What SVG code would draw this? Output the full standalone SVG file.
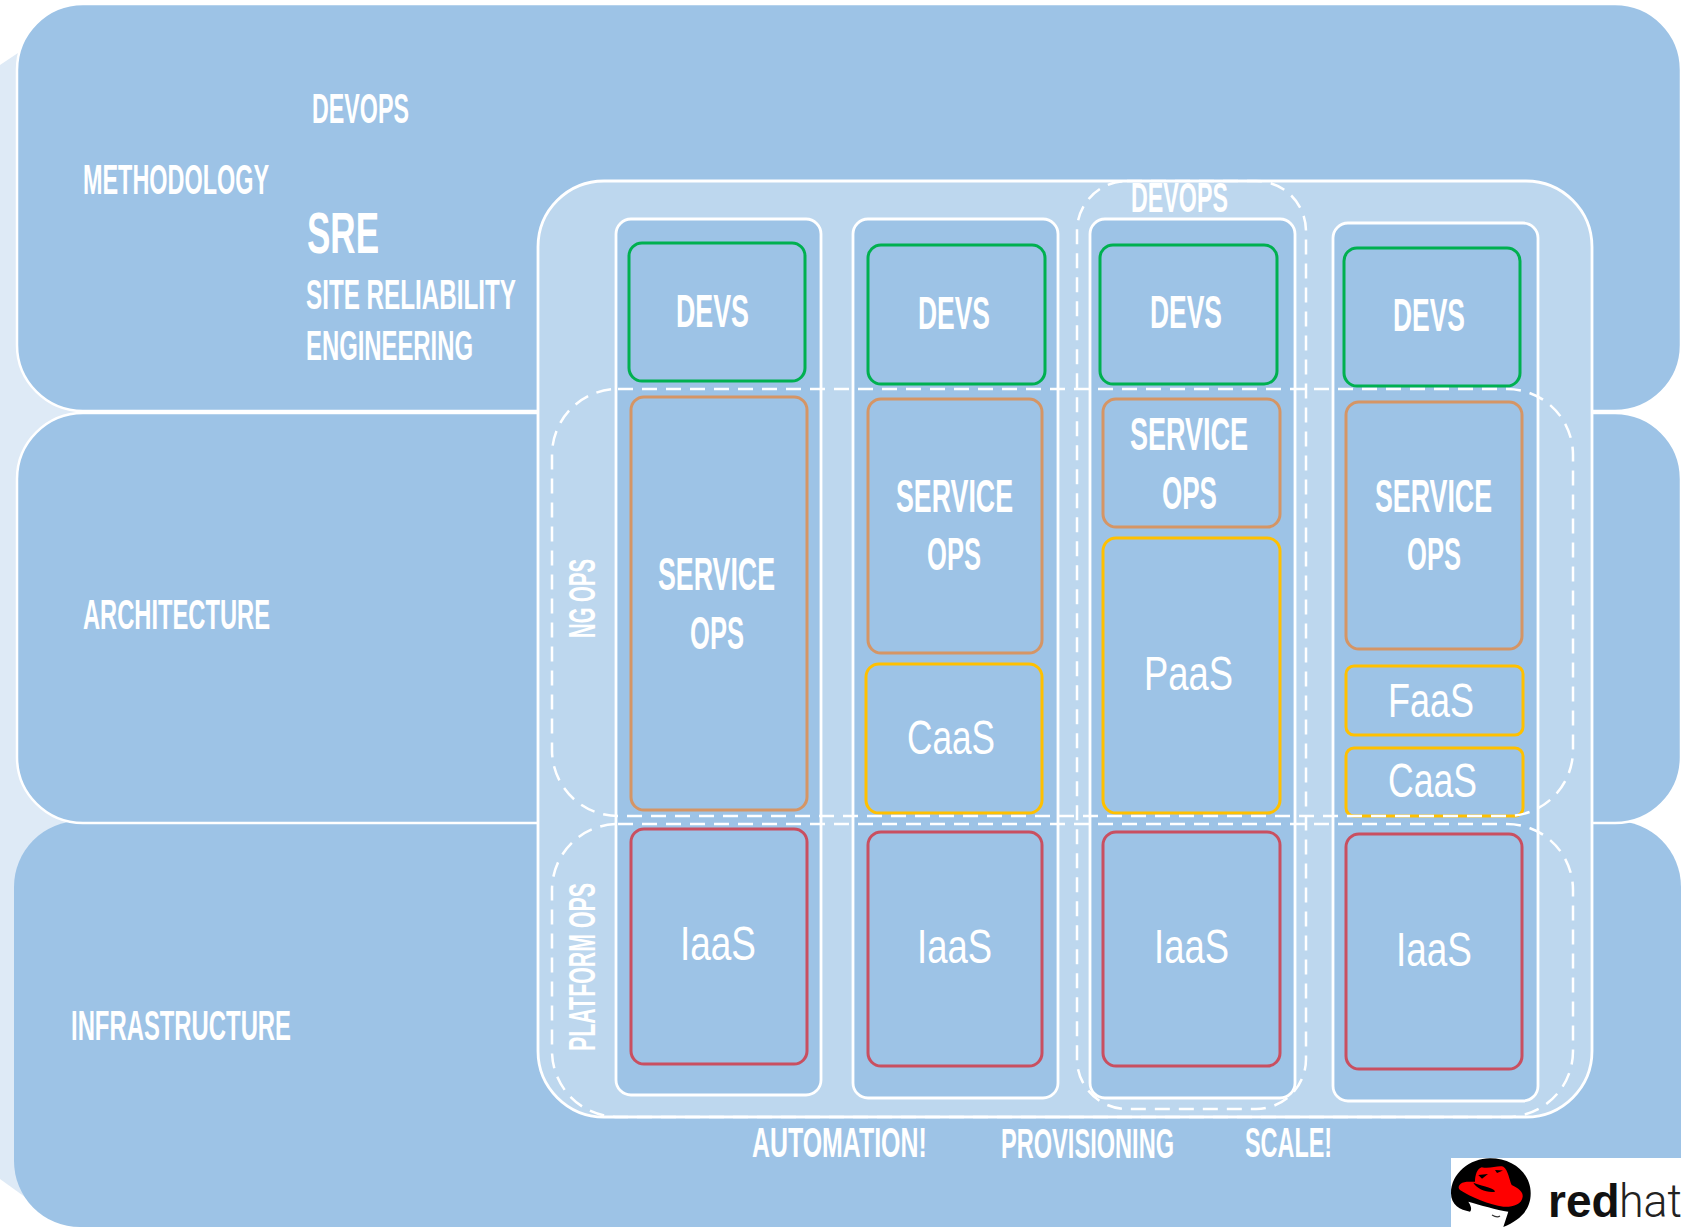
<svg xmlns="http://www.w3.org/2000/svg" width="1683" height="1227" viewBox="0 0 1683 1227">
<style>
.band{fill:#9DC3E6;stroke:#fff;stroke-width:2.5}
.flat{fill:#9DC3E6}
.panel{fill:#BDD7EE;stroke:#fff;stroke-width:2.8}
.card{fill:#9DC3E6;stroke:#fff;stroke-width:2.8}
.dash{fill:none;stroke:#fff;stroke-width:2.5;stroke-dasharray:15 9}
.box{fill:none;stroke-width:3}
.g{stroke:#00B050}.o{stroke:#D59565}.y{stroke:#FFC000}.r{stroke:#C94F60}
text{fill:#fff;font-family:"Liberation Sans",Arial,sans-serif}
.h{font-weight:700;font-size:42px}
.big{font-weight:700;font-size:57px}
.m{font-weight:700;font-size:46px}
.s{font-weight:400;font-size:49px}
.v{font-weight:700;font-size:37px}
.lg{fill:#111;font-size:46px;font-weight:700}
.lt{fill:#222;font-family:Roboto,"Liberation Sans",sans-serif;font-size:46px;font-weight:300}
</style>
<polygon id="backdrop" points="0,65 30,45 90,45 90,1210 25,1197 0,1179" fill="#DEEAF6"/>
<g id="layer-infrastructure"><rect class="flat" x="14" y="821" width="1667" height="406" rx="66" ry="66"/></g>
<g id="layer-architecture"><rect class="band" x="17" y="413" width="1664" height="410" rx="66" ry="66"/></g>
<g id="layer-methodology"><rect class="band" x="17" y="4" width="1664" height="407" rx="66" ry="66"/></g>
<g id="panel"><rect class="panel" x="538" y="181" width="1054" height="936" rx="66" ry="66"/></g>

<g id="column-1">
<rect class="card" x="616" y="219" width="205" height="876" rx="15"/>
<rect class="box g" x="629" y="243" width="176" height="138" rx="13"/>
<rect class="box o" x="631" y="397" width="176" height="413" rx="13"/>
<rect class="box r" x="631" y="829" width="176" height="235" rx="13"/>
</g>
<g id="column-2">
<rect class="card" x="853" y="219" width="205" height="879" rx="15"/>
<rect class="box g" x="868" y="245" width="177" height="139" rx="13"/>
<rect class="box o" x="868" y="399" width="174" height="254" rx="13"/>
<rect class="box y" x="866" y="664" width="176" height="149" rx="13"/>
<rect class="box r" x="868" y="832" width="174" height="234" rx="13"/>
</g>
<g id="column-3">
<rect class="card" x="1090" y="219" width="205" height="879" rx="15"/>
<rect class="box g" x="1100" y="245" width="177" height="139" rx="13"/>
<rect class="box o" x="1103" y="399" width="177" height="128" rx="13"/>
<rect class="box y" x="1103" y="538" width="177" height="275" rx="13"/>
<rect class="box r" x="1103" y="832" width="177" height="234" rx="13"/>
</g>
<g id="column-4">
<rect class="card" x="1333" y="223" width="205" height="878" rx="15"/>
<rect class="box g" x="1344" y="248" width="176" height="138" rx="13"/>
<rect class="box o" x="1346" y="402" width="176" height="247" rx="13"/>
<rect class="box y" x="1346" y="666" width="177" height="69" rx="8"/>
<rect class="box y" x="1346" y="748" width="177" height="68" rx="8"/>
<rect class="box r" x="1346" y="834" width="176" height="235" rx="13"/>
</g>

<g id="dashed-groups">
<rect class="dash" x="552" y="389" width="1021" height="427" rx="66" ry="66"/>
<rect class="dash" x="552" y="824" width="1021" height="293" rx="66" ry="66"/>
<rect class="dash" x="1077" y="181" width="229" height="928" rx="50" ry="50"/>
</g>

<g id="labels-left">
<text class="h" x="312" y="123" textLength="97" lengthAdjust="spacingAndGlyphs">DEVOPS</text>
<text class="h" x="83" y="194" textLength="186" lengthAdjust="spacingAndGlyphs">METHODOLOGY</text>
<text class="big" x="307" y="253" textLength="72" lengthAdjust="spacingAndGlyphs">SRE</text>
<text class="h" x="306" y="309" textLength="210" lengthAdjust="spacingAndGlyphs">SITE RELIABILITY</text>
<text class="h" x="306" y="360" textLength="167" lengthAdjust="spacingAndGlyphs">ENGINEERING</text>
<text class="h" x="83" y="629" textLength="187" lengthAdjust="spacingAndGlyphs">ARCHITECTURE</text>
<text class="h" x="71" y="1040" textLength="220" lengthAdjust="spacingAndGlyphs">INFRASTRUCTURE</text>
</g>
<g id="labels-column-1">
<text class="m" x="676" y="327" textLength="73" lengthAdjust="spacingAndGlyphs">DEVS</text>
<text class="m" x="658" y="590" textLength="117" lengthAdjust="spacingAndGlyphs">SERVICE</text>
<text class="m" x="690" y="649" textLength="54" lengthAdjust="spacingAndGlyphs">OPS</text>
<text class="s" x="680" y="960" textLength="76" lengthAdjust="spacingAndGlyphs">IaaS</text>
</g>
<g id="labels-column-2">
<text class="m" x="918" y="329" textLength="72" lengthAdjust="spacingAndGlyphs">DEVS</text>
<text class="m" x="896" y="512" textLength="117" lengthAdjust="spacingAndGlyphs">SERVICE</text>
<text class="m" x="927" y="570" textLength="54" lengthAdjust="spacingAndGlyphs">OPS</text>
<text class="s" x="907" y="754" textLength="88" lengthAdjust="spacingAndGlyphs">CaaS</text>
<text class="s" x="917" y="963" textLength="75" lengthAdjust="spacingAndGlyphs">IaaS</text>
</g>
<g id="labels-column-3">
<text class="h" x="1131" y="212" textLength="97" lengthAdjust="spacingAndGlyphs">DEVOPS</text>
<text class="m" x="1150" y="328" textLength="72" lengthAdjust="spacingAndGlyphs">DEVS</text>
<text class="m" x="1130" y="450" textLength="118" lengthAdjust="spacingAndGlyphs">SERVICE</text>
<text class="m" x="1162" y="509" textLength="55" lengthAdjust="spacingAndGlyphs">OPS</text>
<text class="s" x="1144" y="690" textLength="89" lengthAdjust="spacingAndGlyphs">PaaS</text>
<text class="s" x="1154" y="963" textLength="75" lengthAdjust="spacingAndGlyphs">IaaS</text>
</g>
<g id="labels-column-4">
<text class="m" x="1393" y="331" textLength="72" lengthAdjust="spacingAndGlyphs">DEVS</text>
<text class="m" x="1375" y="512" textLength="117" lengthAdjust="spacingAndGlyphs">SERVICE</text>
<text class="m" x="1407" y="570" textLength="54" lengthAdjust="spacingAndGlyphs">OPS</text>
<text class="s" x="1388" y="717" textLength="86" lengthAdjust="spacingAndGlyphs">FaaS</text>
<text class="s" x="1388" y="797" textLength="89" lengthAdjust="spacingAndGlyphs">CaaS</text>
<text class="s" x="1396" y="966" textLength="76" lengthAdjust="spacingAndGlyphs">IaaS</text>
</g>
<g id="labels-vertical">
<text class="v" transform="translate(595 638) rotate(-90)" textLength="79" lengthAdjust="spacingAndGlyphs">NG OPS</text>
<text class="v" transform="translate(595 1051) rotate(-90)" textLength="168" lengthAdjust="spacingAndGlyphs">PLATFORM OPS</text>
</g>
<g id="labels-bottom">
<text class="h" transform="translate(752 1157) scale(.593 1)">AUTOMATION!</text>
<text class="h" transform="translate(1001 1158) scale(.562 1)">PROVISIONING</text>
<text class="h" transform="translate(1245 1157) scale(.557 1)">SCALE!</text>
</g>
<g id="logo">
<rect x="1451" y="1158" width="232" height="69" fill="#fff"/>
<path d="M1451 1193.3C1451 1173.3 1470 1158.3 1490 1158.3C1513.3 1158.3 1530.7 1173.3 1530.7 1193.3C1530.7 1210 1520 1220 1503.3 1227L1508.3 1211.7C1496.7 1210 1480 1205 1468.3 1201.7C1471.7 1206.7 1471.7 1210 1470 1211.7C1460 1210 1451 1205 1451 1193.3Z" fill="#000"/>
<path d="M1475 1181.7C1475 1175 1477.3 1168.3 1481.7 1167.3C1490 1169.3 1498.3 1165 1503.3 1166.7C1508.3 1170 1509.3 1180 1511.7 1185C1518.3 1188.3 1523.3 1191.7 1522.7 1196.7C1521.7 1205 1511.7 1207.3 1503.3 1206.7C1490 1205 1470 1196.7 1460 1190C1456.7 1186.7 1460 1182.3 1466.7 1181.7Z" fill="#f00"/>
<path d="M1473.3 1182.7C1485 1187 1495 1188 1495 1191.7C1487 1193 1477 1189 1473.3 1182.7ZM1478.3 1175L1488 1174L1482 1178.7ZM1495 1170L1503 1170.5L1497 1173Z" fill="#000"/>
<path d="M1492 1215Q1497 1218 1500 1216" fill="none" stroke="#333" stroke-width="1.2"/>
<text class="lg" x="1548" y="1217">red</text>
<text class="lt" x="1619" y="1217" textLength="63" lengthAdjust="spacingAndGlyphs">hat</text>
</g>
</svg>
